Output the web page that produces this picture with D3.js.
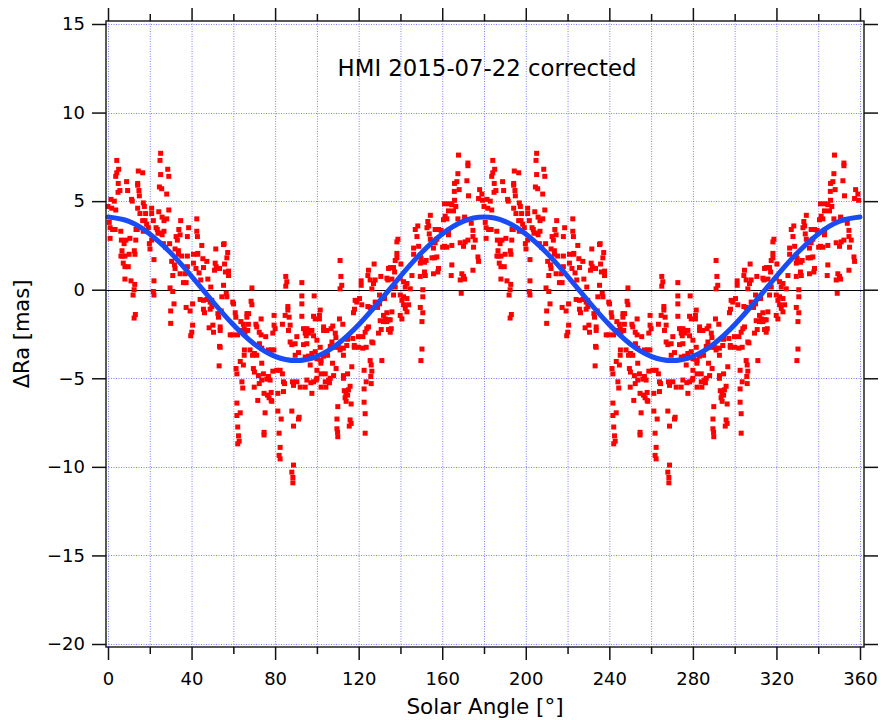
<!DOCTYPE html>
<html>
<head>
<meta charset="utf-8">
<script src="https://cdn.jsdelivr.net/npm/d3@7"></script>
<style>
  body { margin: 0; background: #fff; }
  svg text { font-family: "DejaVu Sans", sans-serif; fill: #000; }
</style>
</head>
<body>
<div id="chart"></div>
<script>
const title = "HMI 2015-07-22 corrected";
const xLabel = "Solar Angle [°]";
const yLabel = "ΔRa [mas]";

const xTicks = [0, 40, 80, 120, 160, 200, 240, 280, 320, 360];
const xMinorTicks = [20, 60, 100, 140, 180, 220, 260, 300, 340];
const yTicks = [-20, -15, -10, -5, 0, 5, 10, 15];

// measurements [solar angle (deg), dRa (mas)] for the first half turn;
// the second half of the plot shows the same values at angle + 180
const halfTurn = [
  [25.2,7.7],[24.9,7.3],[4.2,7.3],[5.1,6.8],[4.2,6.6],[3.7,6.4],[14.5,6.7],[16.6,6.6],[25.2,6.5],[28.6,6.8],
  [29.1,6.4],[4.9,6.0],[4.8,5.5],[8.9,6.1],[14.2,6.0],[14.2,5.9],[14.8,5.6],[15.0,5.3],[24.6,5.8],[25.7,5.7],
  [28.1,5.4],[9.4,5.6],[5.7,5.6],[1.4,5.1],[3.0,5.0],[11.3,5.1],[11.6,5.0],[0.0,4.7],[1.8,4.6],[3.7,4.5],
  [14.2,4.6],[15.3,4.3],[16.9,4.9],[17.4,4.7],[20.9,4.6],[20.9,4.3],[24.3,4.4],[29.1,4.5],[18.0,4.3],[17.7,3.9],
  [16.6,3.9],[18.5,3.7],[19.3,3.5],[21.7,3.9],[23.0,3.5],[25.9,4.1],[26.8,3.9],[28.1,4.0],[34.8,3.9],[42.5,4.0],
  [0.6,3.8],[1.0,3.5],[2.2,3.4],[3.4,3.4],[6.1,3.3],[13.4,3.4],[14.0,3.4],[16.9,3.3],[23.6,3.4],[23.9,3.2],
  [24.6,3.2],[26.8,3.3],[25.9,3.1],[33.9,3.4],[38.6,3.5],[42.5,3.3],[34.5,3.1],[32.6,3.0],[33.2,2.8],[38.0,3.0],
  [42.8,3.0],[1.0,2.9],[6.4,2.8],[8.6,2.8],[7.7,2.6],[10.5,2.9],[13.3,2.8],[20.9,2.8],[19.8,2.6],[20.1,2.3],
  [26.5,2.6],[27.6,2.4],[29.5,2.6],[6.7,2.2],[10.1,2.0],[12.6,2.2],[12.9,2.0],[6.2,1.9],[6.9,1.9],[8.1,1.9],
  [32.1,2.3],[33.7,2.2],[33.7,2.0],[35.3,1.9],[38.0,1.9],[40.9,2.0],[42.8,2.0],[7.3,1.5],[8.1,1.3],[9.7,1.3],
  [22.0,1.7],[30.5,1.6],[31.8,1.4],[32.1,1.2],[31.0,0.8],[34.5,0.9],[36.9,0.9],[40.9,1.5],[42.1,1.2],[38.0,1.3],
  [8.1,0.6],[11.0,0.5],[12.8,0.3],[22.0,0.5],[36.1,0.4],[37.4,0.4],[29.7,0.1],[31.0,-0.1],[12.5,0.0],[12.0,-0.3],
  [21.7,-0.1],[22.0,-0.3],[31.6,-0.8],[30.0,-1.2],[37.4,-1.0],[39.3,-1.2],[40.5,-0.8],[13.1,-1.4],[12.5,-1.6],[30.0,-1.9],
  [40.5,-2.0],[40.1,-2.4],[39.6,-2.6],
  [44.9,2.5],[51.6,2.3],[55.3,2.55],[55.6,2.6],[57.3,2.1],[43.0,2.05],[45.4,1.75],[47.3,1.6],[45.7,1.25],[51.3,1.5],
  [51.8,1.3],[51.0,1.1],[55.8,1.45],[56.9,1.8],[53.4,1.2],[56.2,1.0],[57.7,1.05],[57.7,0.8],[43.6,0.95],[47.8,0.6],
  [44.4,0.55],[49.2,0.15],[55.3,0.25],[68.9,0.1],[85.1,0.75],[85.6,0.45],[85.1,0.2],[56.6,-0.2],[56.9,-0.4],[54.5,-0.4],
  [44.1,-0.55],[45.7,-0.6],[47.3,-0.55],[48.9,-0.7],[49.7,-0.6],[59.7,-0.7],[60.1,-0.8],[68.5,-0.65],[68.9,-0.85],[45.7,-1.1],
  [46.2,-1.3],[48.9,-1.1],[49.7,-0.95],[52.6,-1.35],[52.9,-1.55],[54.2,-1.2],[60.9,-1.3],[61.2,-1.55],[66.5,-1.35],[67.3,-1.35],
  [66.5,-1.55],[73.3,-1.65],[79.5,-1.45],[84.8,-1.45],[86.7,-1.55],[86.1,-0.95],[86.1,-1.15],[48.4,-2.15],[50.2,-2.0],[50.5,-2.4],
  [53.7,-2.1],[53.7,-2.3],[58.5,-2.55],[59.7,-2.55],[63.6,-1.8],[64.8,-1.95],[65.2,-2.2],[64.1,-2.3],[62.0,-2.55],[65.6,-2.4],
  [67.2,-1.95],[66.9,-2.3],[70.8,-1.95],[71.2,-2.1],[72.4,-2.4],[73.3,-2.55],[75.5,-2.65],[79.5,-2.0],[80.0,-2.2],[78.9,-2.45],
  [83.5,-1.95],[87.2,-2.0],[86.4,-2.3],[87.2,-2.95],[88.0,-3.1],[53.4,-3.2],[53.7,-3.25],[65.3,-3.4],[68.0,-3.4],[70.1,-3.6],
  [69.2,-3.7],[71.2,-3.7],[72.5,-3.05],[73.6,-3.3],[76.8,-3.4],[77.1,-3.5],[78.4,-3.4],[79.4,-3.4],[65.2,-3.7],[63.3,-4.05],
  [64.8,-4.25],[53.2,-4.3],[73.6,-4.15],[69.6,-4.45],[70.1,-4.65],[72.0,-4.85],[74.4,-4.75],[73.6,-5.1],[76.0,-5.05],[76.8,-4.9],
  [77.6,-5.1],[78.9,-4.6],[80.8,-4.55],[82.4,-4.55],[83.5,-4.75],[84.0,-5.2],[84.5,-5.3],[88.3,-5.2],[88.8,-5.4],[61.3,-4.45],
  [61.7,-4.75],[64.1,-5.2],[64.5,-5.55],[70.0,-5.5],[72.4,-5.3],[74.7,-5.85],[76.3,-5.95],[78.1,-5.8],[77.1,-6.1],[78.1,-6.25],
  [78.4,-6.3],[81.3,-5.85],[84.0,-5.75],[71.7,-6.25],[61.7,-6.4],[63.3,-6.95],[61.7,-7.1],[75.2,-6.95],[81.3,-6.85],[88.0,-6.85],
  [82.9,-7.3],[88.8,-7.7],[62.1,-7.75],[74.7,-8.05],[74.7,-8.2],[81.9,-8.1],[62.5,-8.25],[62.8,-8.55],[62.1,-8.7],[82.4,-8.9],
  [81.9,-9.35],[82.4,-9.55],[88.8,-9.9],[88.0,-10.3],[88.5,-10.6],[88.5,-10.9],
  [111.1,1.65],[127.4,1.45],[92.8,0.4],[111.5,0.75],[111.9,0.25],[111.1,0.05],[121.2,0.5],[121.2,0.25],[124.7,1.1],[124.4,0.8],
  [125.5,0.55],[127.9,0.55],[127.1,0.35],[126.3,0.05],[134.3,1.2],[133.5,0.65],[130.6,0.75],[98.7,-0.35],[92.8,-0.35],[92.8,-0.8],
  [101.6,-1.15],[98.4,-1.5],[99.2,-1.65],[101.2,-1.65],[101.2,-1.45],[110.8,-1.65],[92.8,-1.5],[120.4,-0.5],[119.1,-0.7],[118.3,-0.6],
  [117.5,-1.3],[118.0,-1.1],[121.5,-0.85],[124.4,-0.95],[125.5,-1.0],[127.9,-0.7],[129.0,-1.0],[130.0,-0.8],[130.0,-0.3],[131.1,-0.5],
  [132.4,-0.5],[131.9,-1.45],[133.5,-1.3],[132.7,-1.65],[134.3,-1.7],[130.3,-1.75],[131.9,-1.8],[134.3,-2.25],[129.5,-2.45],[130.8,-2.25],
  [90.4,-2.65],[93.6,-2.2],[95.2,-2.2],[94.4,-2.45],[96.0,-2.45],[94.9,-2.6],[93.6,-3.1],[95.2,-3.05],[89.6,-3.05],[96.8,-2.3],
  [97.6,-2.3],[98.4,-2.6],[103.2,-2.1],[103.2,-2.3],[104.8,-2.3],[106.8,-2.2],[107.6,-2.05],[108.8,-2.45],[109.1,-2.7],[112.4,-1.95],
  [107.2,-2.95],[106.4,-3.2],[101.6,-3.25],[100.0,-2.85],[99.2,-3.5],[97.6,-3.6],[89.6,-3.7],[91.2,-3.55],[94.4,-3.8],[96.0,-3.75],
  [105.1,-3.7],[103.2,-3.75],[108.8,-3.25],[110.3,-3.25],[112.7,-3.3],[111.1,-3.4],[114.7,-2.8],[117.2,-2.75],[117.9,-3.15],[117.9,-3.25],
  [114.3,-3.15],[122.0,-2.65],[123.1,-2.4],[123.9,-2.2],[124.7,-2.1],[122.0,-3.3],[123.6,-3.25],[126.3,-2.95],[126.8,-3.0],[119.9,-2.65],
  [119.9,-3.25],[100.0,-3.9],[102.0,-4.0],[101.9,-4.15],[96.8,-4.25],[90.4,-5.2],[92.0,-5.5],[94.4,-5.5],[95.2,-5.1],[97.1,-5.25],
  [98.4,-5.2],[99.7,-5.1],[97.6,-5.85],[100.0,-5.0],[100.0,-4.55],[102.0,-4.75],[102.0,-5.5],[104.3,-5.5],[104.0,-5.2],[105.6,-5.1],
  [106.0,-5.25],[106.4,-5.0],[104.0,-4.75],[107.5,-4.15],[108.0,-4.85],[109.2,-4.45],[112.7,-5.0],[112.7,-4.85],[114.7,-4.75],[116.7,-4.35],
  [112.7,-3.7],[122.6,-4.55],[125.5,-4.0],[126.0,-4.25],[126.3,-4.6],[125.8,-4.9],[126.0,-5.3],[123.6,-5.2],[131.1,-4.0],[115.9,-5.45],
  [113.1,-5.7],[113.9,-5.85],[114.7,-5.95],[113.5,-6.1],[114.0,-6.3],[115.1,-5.65],[122.6,-5.6],[122.6,-6.35],[116.4,-6.45],[110.0,-6.6],
  [123.1,-7.0],[115.9,-7.35],[116.4,-7.55],[115.5,-7.7],[109.6,-7.3],[109.6,-7.85],[109.9,-8.05],[110.0,-8.3],[123.1,-8.1],[91.5,-7.2],
  [91.2,-7.3],
  [167.8,7.6],[172.3,7.15],[172.3,7.0],[167.5,6.55],[167.0,6.1],[165.9,6.0],[168.1,5.65],[165.8,5.55],[171.8,6.15],[172.6,5.3],
  [177.9,5.65],[177.4,5.15],[179.0,5.4],[179.3,5.05],[165.9,5.05],[161.1,4.85],[163.4,4.85],[164.6,4.8],[166.5,4.7],[165.4,4.45],
  [163.0,4.45],[161.4,4.15],[162.2,4.0],[160.6,3.95],[154.3,4.2],[153.1,3.85],[153.5,3.6],[152.7,3.5],[148.3,3.6],[147.1,3.4],
  [147.9,3.0],[158.2,3.4],[159.5,3.35],[156.6,3.4],[153.8,3.15],[154.3,2.85],[157.4,2.85],[156.6,2.65],[163.0,3.35],[163.0,3.1],
  [160.2,2.4],[167.5,4.0],[170.7,4.1],[171.8,3.95],[173.9,3.75],[174.7,3.35],[174.7,3.0],[175.8,2.8],[175.0,2.4],[171.0,2.7],
  [172.3,2.8],[170.2,2.45],[177.1,1.85],[177.4,1.6],[168.6,2.65],[164.6,2.5],[162.2,2.4],[161.1,2.45],[138.8,2.85],[138.3,2.7],
  [138.3,2.05],[138.3,1.8],[137.5,1.65],[135.1,1.25],[136.7,1.25],[137.2,1.0],[140.2,1.45],[146.3,2.35],[146.3,2.0],[148.7,2.45],
  [149.5,1.95],[149.9,1.75],[149.5,1.5],[151.5,1.55],[152.3,1.65],[155.1,1.8],[156.3,1.8],[157.4,1.85],[155.8,2.35],[158.2,1.2],
  [155.8,0.9],[157.9,1.0],[151.5,1.0],[151.9,0.8],[149.5,0.75],[145.5,0.8],[164.6,1.4],[164.3,0.8],[169.4,0.9],[170.2,0.75],
  [168.6,0.55],[170.7,0.6],[174.7,1.1],[169.1,-0.2],[139.9,0.65],[141.5,0.45],[143.1,0.35],[142.3,0.15],[144.7,0.05],[135.9,0.6],
  [134.0,0.55],[137.5,0.15],[136.7,-0.3],[139.9,-0.3],[141.5,-0.4],[140.7,-0.6],[143.1,-0.5],[143.9,-0.85],[141.5,-0.85],[142.3,-1.05],
  [143.1,-1.25],[139.9,-1.45],[140.7,-1.65],[135.9,-1.25],[135.1,-1.7],[133.5,-1.8],[135.6,-2.2],[135.1,-2.4],[150.7,0.0],[150.7,-0.4],
  [149.5,-1.0],[150.7,-1.3],[150.3,-1.8],[150.3,-3.35],[149.8,-4.0]
];

// fitted curve, read every 10 degrees
const fitAngle = [0,10,20,30,40,50,60,70,80,90,100,110,120,130,140,150,160,170,180,
                  190,200,210,220,230,240,250,260,270,280,290,300,310,320,330,340,350,360];
const fitDRa = [4.10,3.86,3.15,2.08,0.76,-0.65,-1.98,-3.06,-3.76,-4.00,-3.76,-3.06,-1.98,-0.65,0.76,2.08,3.15,3.86,4.10,
                3.86,3.15,2.08,0.76,-0.65,-1.98,-3.06,-3.76,-4.00,-3.76,-3.06,-1.98,-0.65,0.76,2.08,3.15,3.86,4.10];

const width = 882, height = 720;
const frame = {left: 106, top: 21, right: 864, bottom: 647};

const svg = d3.select("#chart")
  .append("svg")
    .attr("width", width)
    .attr("height", height);

const x = d3.scaleLinear().domain([0, 360]).range([108, 860]);
const y = d3.scaleLinear().domain([-20, 15]).range([644, 24]);

// grid
const gridX = xTicks.concat(xMinorTicks);
svg.append("g").selectAll("line")
  .data(gridX)
  .join("line")
    .attr("x1", d => x(d) + 0.5).attr("x2", d => x(d) + 0.5)
    .attr("y1", frame.top).attr("y2", frame.bottom)
    .attr("stroke", "#8080ff")
    .attr("stroke-width", 1)
    .attr("stroke-dasharray", "1,1.5");
svg.append("g").selectAll("line")
  .data(yTicks)
  .join("line")
    .attr("x1", frame.left).attr("x2", frame.right)
    .attr("y1", d => Math.round(y(d)) + 0.5).attr("y2", d => Math.round(y(d)) + 0.5)
    .attr("stroke", "#8080ff")
    .attr("stroke-width", 1)
    .attr("stroke-dasharray", "1,1.5");

// zero line
svg.append("line")
  .attr("x1", frame.left).attr("x2", frame.right)
  .attr("y1", Math.round(y(0)) + 0.5).attr("y2", Math.round(y(0)) + 0.5)
  .attr("stroke", "#000")
  .attr("stroke-width", 1);

// points: same measurements drawn over both half turns
const allPoints = halfTurn.concat(halfTurn.map(d => [d[0] + 180, d[1]]));
const s = 5;
svg.append("g").selectAll("rect")
  .data(allPoints)
  .join("rect")
    .attr("x", d => x(d[0]) - s / 2)
    .attr("y", d => y(d[1]) - s / 2)
    .attr("width", s)
    .attr("height", s)
    .attr("fill", "#ff0000");

// fit
const line = d3.line()
  .x((d, i) => x(fitAngle[i]))
  .y(d => y(d))
  .curve(d3.curveNatural);
svg.append("path")
  .attr("d", line(fitDRa))
  .attr("fill", "none")
  .attr("stroke", "#1a4cf5")
  .attr("stroke-width", 5)
  .attr("stroke-linecap", "round");

// frame
svg.append("rect")
  .attr("x", frame.left).attr("y", frame.top)
  .attr("width", frame.right - frame.left)
  .attr("height", frame.bottom - frame.top)
  .attr("fill", "none")
  .attr("stroke", "#222")
  .attr("stroke-width", 1.5);

function styleAxis(g) {
  g.select(".domain").remove();
  g.selectAll(".tick line").attr("stroke", "#111").attr("stroke-width", 1.5);
  g.selectAll(".tick text").attr("font-size", "18px").attr("font-family", "DejaVu Sans, sans-serif").attr("fill", "#000");
}

// bottom axis
svg.append("g")
  .attr("transform", `translate(0,${frame.bottom})`)
  .call(d3.axisBottom(x).tickValues(xTicks).tickSize(13).tickPadding(12))
  .call(styleAxis);
svg.append("g")
  .attr("transform", `translate(0,${frame.bottom})`)
  .call(d3.axisBottom(x).tickValues(xMinorTicks).tickSize(7).tickFormat(""))
  .call(styleAxis);

// top axis
svg.append("g")
  .attr("transform", `translate(0,${frame.top})`)
  .call(d3.axisTop(x).tickValues(xTicks).tickSize(13).tickFormat(""))
  .call(styleAxis);
svg.append("g")
  .attr("transform", `translate(0,${frame.top})`)
  .call(d3.axisTop(x).tickValues(xMinorTicks).tickSize(7).tickFormat(""))
  .call(styleAxis);

// left axis
svg.append("g")
  .attr("transform", `translate(${frame.left},0)`)
  .call(d3.axisLeft(y).tickValues(yTicks).tickSize(14).tickPadding(7))
  .call(styleAxis);

// right axis
svg.append("g")
  .attr("transform", `translate(${frame.right},0)`)
  .call(d3.axisRight(y).tickValues(yTicks).tickSize(14).tickFormat(""))
  .call(styleAxis);

// texts
svg.append("text")
  .attr("x", 487).attr("y", 76)
  .attr("text-anchor", "middle")
  .attr("font-size", "22.8px")
  .text(title);

svg.append("text")
  .attr("x", (frame.left + frame.right) / 2).attr("y", 714)
  .attr("text-anchor", "middle")
  .attr("font-size", "21.5px")
  .text(xLabel);

svg.append("text")
  .attr("transform", `translate(29,${(frame.top + frame.bottom) / 2}) rotate(-90)`)
  .attr("text-anchor", "middle")
  .attr("font-size", "21px")
  .text(yLabel);
</script>
</body>
</html>
